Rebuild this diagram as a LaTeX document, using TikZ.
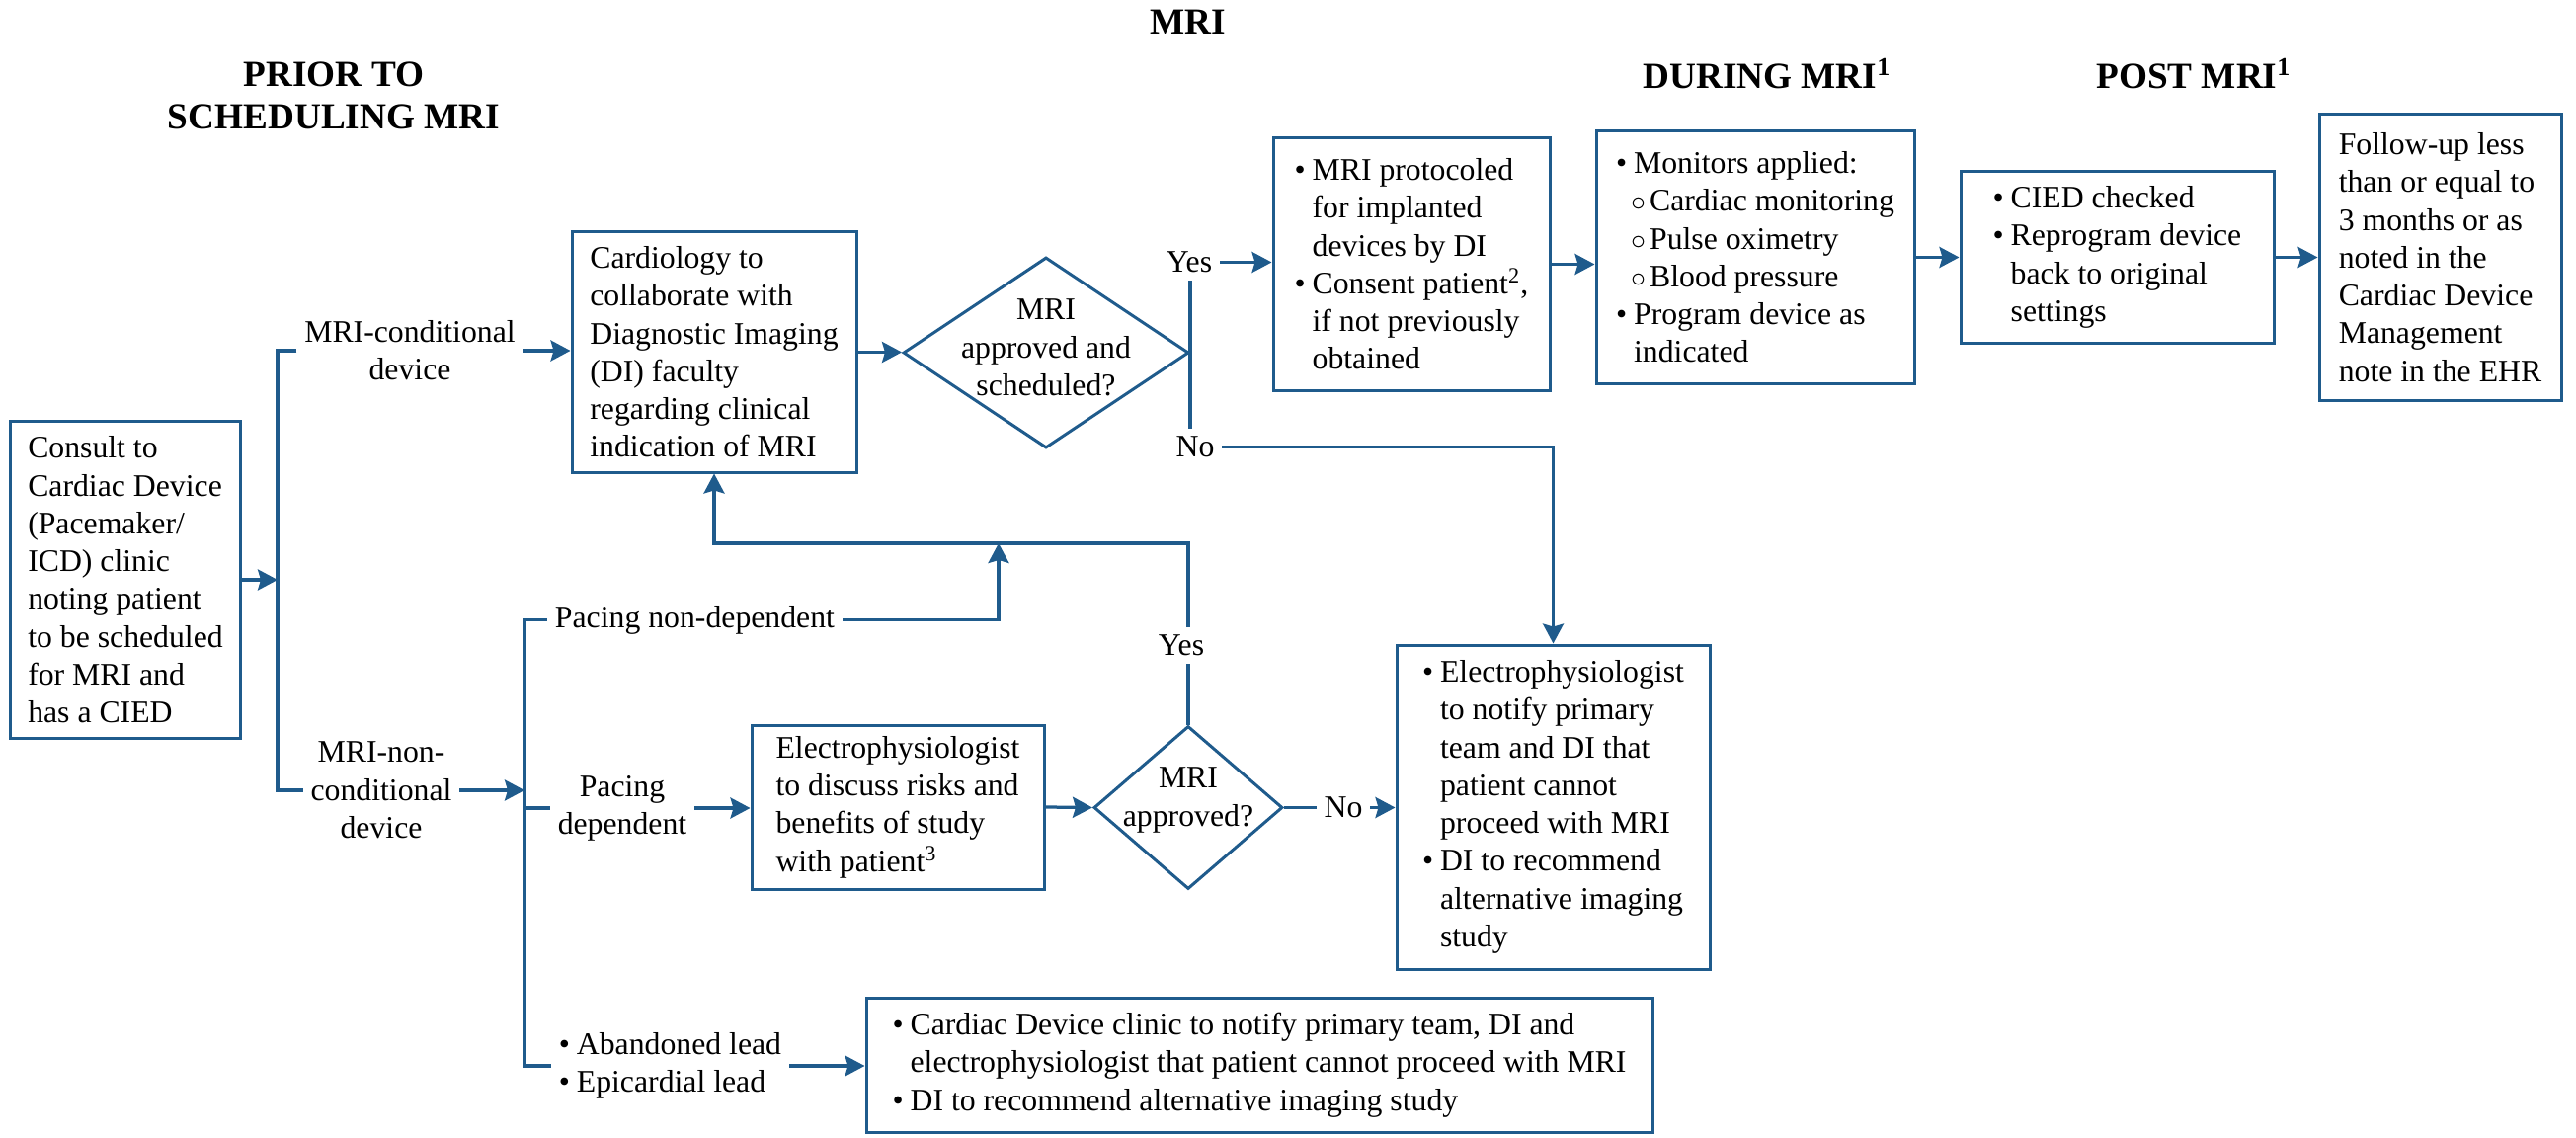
\documentclass[tikz,border=0pt]{standalone}
\usepackage{fontspec}
\setmainfont{Liberation Serif}
\usetikzlibrary{arrows.meta,shapes.geometric}
\definecolor{mriblue}{RGB}{31,91,140}
\newcommand{\bul}{\makebox[7.2pt][l]{\textbullet}}
\newcommand{\bullind}{\hspace*{7.2pt}}
\newcommand{\sbul}{\hspace*{6pt}\makebox[7.6pt][l]{$\circ$}}
\tikzset{
  box/.style={draw=mriblue, line width=1.2pt, align=left, inner sep=2pt},
  decision/.style={diamond, draw=mriblue, line width=1.2pt, inner sep=0pt},
  lbl/.style={align=center, inner sep=3pt},
  head/.style={font=\fontsize{14.9}{17.2}\selectfont\bfseries, align=center},
  link/.style={draw=mriblue, line width=1.3pt},
  arr/.style={link, -{Stealth[length=8pt,width=8.4pt,inset=1.2pt]}},
}
\begin{document}
\begin{tikzpicture}[x=0.4pt, y=-0.4pt, font=\fontsize{12.7}{15.3}\selectfont]
\useasboundingbox (0,0) rectangle (2608,1152);

\node (ttl) [head, anchor=base] at (1203,35) {MRI};
\node (hprior) [head] at (338,97) {PRIOR TO\\SCHEDULING MRI};
\node (hduring) [head, anchor=base] at (1789,90) {DURING MRI\textsuperscript{1}};
\node (hpost) [head, anchor=base] at (2221,90) {POST MRI\textsuperscript{1}};

\node (consult) [box, minimum width=92.8pt, minimum height=128pt] at (127,587) {Consult to\\Cardiac Device\\(Pacemaker/\\ICD) clinic\\noting patient\\to be scheduled\\for MRI and\\has a CIED};
\node (mc) [lbl] at (415,355) {MRI-conditional\\device};
\node (mnc) [lbl] at (386,800) {MRI-non-\\conditional\\device};
\node (cardio) [box, minimum width=115.2pt, minimum height=97.2pt] at (723,356.5) {Cardiology to\\collaborate with\\Diagnostic Imaging\\(DI) faculty\\regarding clinical\\indication of MRI};
\node (dia1) [decision, minimum width=115.6pt, minimum height=77.2pt, label={[name=dia1txt, align=center, yshift=2pt]center:MRI\\approved and\\scheduled?}] at (1059,357) {};
\node (yes1) [lbl] at (1204,265.5) {Yes};
\node (no1) [lbl] at (1210,452.5) {No};
\node (proto) [box, minimum width=112pt, minimum height=102pt] at (1429,267.5) {\bul MRI protocoled\\\bullind for implanted\\\bullind devices by DI\\\bul Consent patient\textsuperscript{2},\\\bullind if not previously\\\bullind obtained};
\node (mon) [box, minimum width=128.8pt, minimum height=102.4pt] at (1777,260.5) {\bul Monitors applied:\\\sbul Cardiac monitoring\\\sbul Pulse oximetry\\\sbul Blood pressure\\\bul Program device as\\\bullind indicated};
\node (cied) [box, minimum width=126.8pt, minimum height=69.2pt] at (2143.5,260.5) {\bul CIED checked\\\bul Reprogram device\\\bullind back to original\\\bullind settings};
\node (follow) [box, minimum width=98pt, minimum height=115.6pt] at (2470.5,260.5) {Follow-up less\\than or equal to\\3 months or as\\noted in the\\Cardiac Device\\Management\\note in the EHR};

\node (pnd) [lbl] at (703.5,627.6) {Pacing non-dependent};
\node (pd) [lbl] at (630,818) {Pacing\\dependent};
\node (leads) [lbl, align=left] at (678.5,1079) {\bul Abandoned lead\\\bul Epicardial lead};
\node (epd) [box, minimum width=118.4pt, minimum height=66.4pt] at (909,817) {Electrophysiologist\\to discuss risks and\\benefits of study\\with patient\textsuperscript{3}};
\node (dia2) [decision, minimum width=76.4pt, minimum height=66pt, label={[name=dia2txt, align=center, yshift=3pt]center:MRI\\approved?}] at (1203,817.5) {};
\node (yes2) [lbl] at (1196,653.5) {Yes};
\node (no2) [lbl] at (1360,817.5) {No};
\node (epn) [box, minimum width=126.8pt, minimum height=131.2pt] at (1572.5,817) {\bul Electrophysiologist\\\bullind to notify primary\\\bullind team and DI that\\\bullind patient cannot\\\bullind proceed with MRI\\\bul DI to recommend\\\bullind alternative imaging\\\bullind study};
\node (abn) [box, minimum width=318.4pt, minimum height=54.4pt] at (1275,1078) {\bul Cardiac Device clinic to notify primary team, DI and\\\bullind electrophysiologist that patient cannot proceed with MRI\\\bul DI to recommend alternative imaging study};

\coordinate (sp1) at (281,587);
\coordinate (sp2) at (531,798);
\coordinate (fbk) at (1203,550);
\coordinate (fbj) at (1011,550);

\draw [arr] (consult.east) -- (sp1);
\draw [link] (mc.west) -| (sp1) |- (mnc.west);
\draw [arr] (mc.east) -- (mc.east -| cardio.west);
\draw [arr] (mnc.east) -- (mnc.east -| sp2);
\draw [link] (pnd.west) -| (sp2) |- (leads.west);
\draw [link] (sp2 |- pd.west) -- (pd.west);
\draw [arr] (pd.east) -- (pd.east -| epd.west);
\draw [arr] (leads.east) -- (leads.east -| abn.west);
\draw [arr] (pnd.east) -| (fbj);
\draw [arr] (cardio.east) -- (cardio.east -| dia1.west);
\draw [link] (dia1.east |- yes1.south) -- (dia1.east |- no1.north);
\draw [arr] (yes1.east) -- (yes1.east -| proto.west);
\draw [arr] (no1.east) -| (epn.north);
\draw [arr] (proto.east) -- (proto.east -| mon.west);
\draw [arr] (mon.east) -- (mon.east -| cied.west);
\draw [arr] (cied.east) -- (cied.east -| follow.west);
\draw [arr] (epd.east) -- (dia2.west);
\draw [link] (dia2.east) -- (no2.west);
\draw [arr] (no2.east) -- (no2.east -| epn.west);
\draw [link] (dia2.north) -- (dia2.north |- yes2.south);
\draw [arr] (dia2.north |- yes2.north) -- (fbk) -| (cardio.south);
\end{tikzpicture}
\end{document}
